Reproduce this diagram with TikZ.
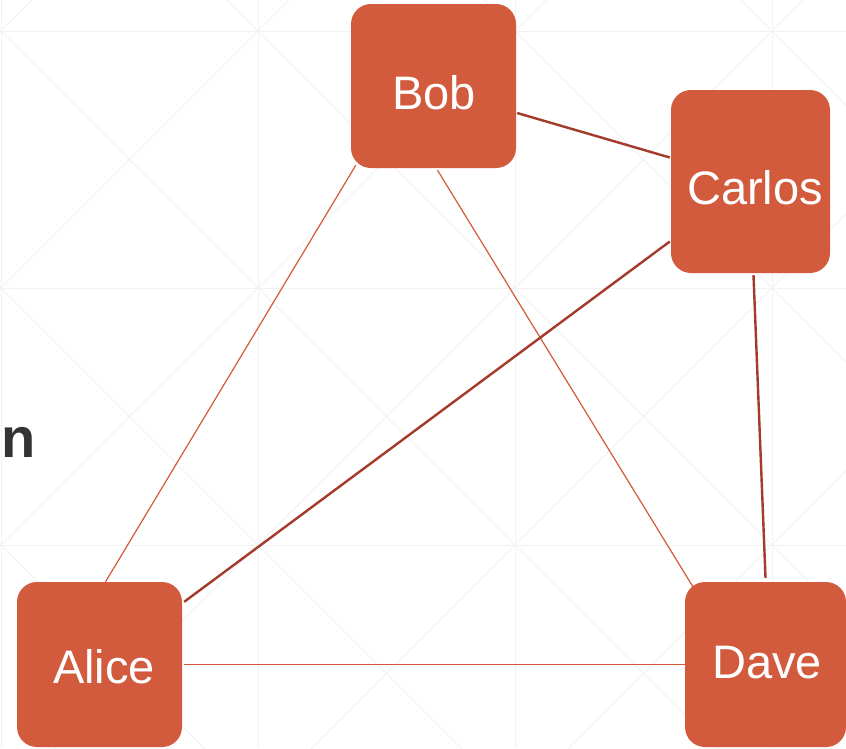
\documentclass[tikz,border=0pt]{standalone}
\usepackage{fontspec}
\setmainfont{Liberation Sans}
\usetikzlibrary{calc}
\definecolor{boxfill}{RGB}{210,91,62}
\definecolor{thickedge}{RGB}{163,58,42}
\definecolor{thinedge}{RGB}{214,88,58}
\definecolor{gridgray}{RGB}{242,242,242}
\definecolor{ntext}{RGB}{51,51,51}
\tikzset{
  box/.style={draw=none, fill=boxfill, rounded corners=20pt, inner sep=0pt},
  lbl/.style={anchor=base, inner sep=0pt, text=white, font=\fontsize{47}{55}\selectfont},
  strong/.style={draw=thickedge, line width=2.4pt},
  weak/.style={draw=thinedge, line width=1.2pt},
  gridline/.style={draw=gridgray, line width=1pt}
}
\begin{document}
\begin{tikzpicture}[x=1pt, y=-1pt]
\useasboundingbox (0,0) rectangle (846,748);
\fill[white] (0,0) rectangle (846,748);
% background grid
\begin{scope}
\clip (0,0) rectangle (846,748);
\foreach \gx in {1,258,515,772} { \draw[gridline] (\gx,0) -- (\gx,748); }
\foreach \gy in {31,288,545} { \draw[gridline] (0,\gy) -- (846,\gy); }
\foreach \cx in {-256,1,258,515,772} {
  \foreach \cy in {-226,31,288,545} {
    \draw[gridline] (\cx,\cy) -- ++(257,257);
    \draw[gridline] (\cx+257,\cy) -- ++(-257,257);
  }
}
\end{scope}
% stray text
\node[anchor=base west, inner sep=0pt, text=ntext, font=\fontsize{56}{60}\selectfont\bfseries] (ntxt) at (1,457) {n};
% boxes
\node[box, minimum width=165pt, minimum height=164pt] (bob) at (433.5,86) {};
\node[box, minimum width=159pt, minimum height=183pt] (carlos) at (750.5,181.5) {};
\node[box, minimum width=165pt, minimum height=165pt] (alice) at (99.5,664.5) {};
\node[box, minimum width=161pt, minimum height=165pt] (dave) at (765.5,664.5) {};
% labels
\node[lbl] (bobt) at (434,109) {Bob};
\node[lbl] (carlost) at (755,204) {Carlos};
\node[lbl] (alicet) at (104,683) {Alice};
\node[lbl] (davet) at (767,678) {Dave};
% edges
\draw[weak] ($(bob.south west)+(5,-3)$) -- ($(alice.north)+(6,0)$);
\draw[weak] ($(bob.south)+(4,2)$) -- ($(dave.north west)+(10,8)$);
\draw[weak] ($(alice.east)+(2,0)$) -- (dave.west);
\draw[strong] ($(bob.east)+(1,27)$) -- ($(carlos.west)+(-1,-24)$);
\draw[strong] ($(carlos.west)+(-1,60)$) -- ($(alice.north east)+(2,20)$);
\draw[strong] ($(carlos.south)+(3,2)$) -- ($(dave.north)+(0,-4)$);
\end{tikzpicture}
\end{document}
